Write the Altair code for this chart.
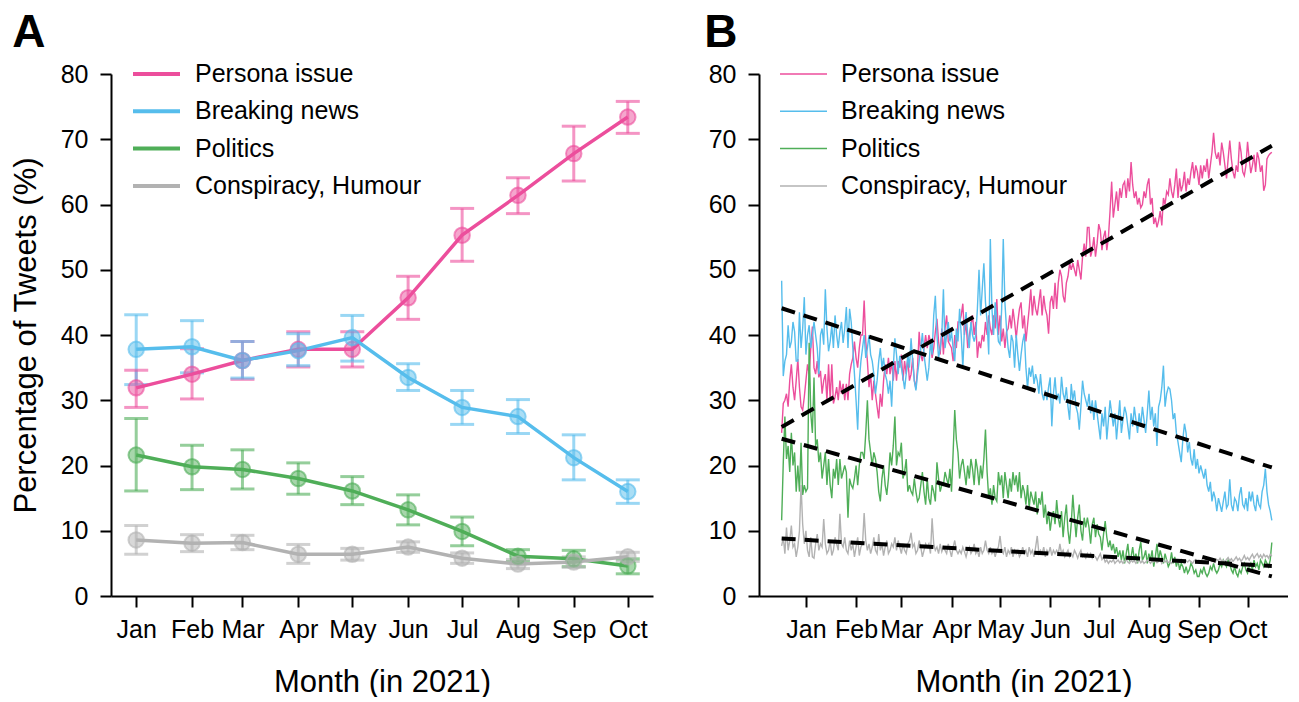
import altair as alt
import pandas as pd

FONT = "Liberation Sans"
SERIES = ["Persona issue", "Breaking news", "Politics", "Conspiracy, Humour"]
COLORS = ["#EC4E9C", "#56BDEC", "#4FAE58", "#B2B2B2"]

# ---------------- Panel A: monthly means with error bars ----------------
MONTHS = ["2021-01-01", "2021-02-01", "2021-03-01", "2021-04-01", "2021-05-01",
          "2021-06-01", "2021-07-01", "2021-08-01", "2021-09-01", "2021-10-01"]

persona_mean = [31.9, 34.0, 36.1, 37.8, 37.8, 45.7, 55.3, 61.4, 67.8, 73.4]
persona_lo = [28.9, 30.2, 33.2, 35.1, 35.1, 42.4, 51.3, 58.6, 63.6, 70.9]
persona_hi = [34.6, 37.9, 39.0, 40.5, 40.5, 49.0, 59.4, 64.1, 72.0, 75.8]

breaking_mean = [37.8, 38.2, 36.1, 37.6, 39.6, 33.5, 28.9, 27.5, 21.2, 16.0]
breaking_lo = [32.4, 34.2, 33.4, 35.3, 36.0, 31.5, 26.3, 24.9, 17.8, 14.2]
breaking_hi = [43.1, 42.2, 39.0, 40.2, 43.0, 35.6, 31.5, 30.1, 24.7, 17.8]

politics_mean = [21.6, 19.8, 19.4, 18.0, 16.1, 13.2, 9.9, 6.1, 5.7, 4.6]
politics_lo = [16.1, 16.3, 16.4, 15.6, 14.0, 10.9, 7.7, 5.3, 4.5, 3.4]
politics_hi = [27.2, 23.1, 22.4, 20.4, 18.3, 15.5, 12.1, 7.1, 7.0, 5.7]

consp_mean = [8.6, 8.1, 8.2, 6.4, 6.4, 7.5, 5.8, 4.9, 5.2, 6.0]
consp_lo = [6.4, 6.8, 7.1, 5.0, 5.5, 6.7, 5.0, 4.2, 4.4, 5.3]
consp_hi = [10.8, 9.4, 9.3, 7.9, 7.3, 8.3, 6.6, 5.6, 6.0, 6.7]

# ---------------- Panel B: daily shares (from 2020-12-17) ----------------
DAILY_START = "2020-12-17"

persona_daily = [
    25, 29.5, 30, 31, 29, 33, 35.5, 32, 30, 33,
    36.3, 32, 29, 28.5, 30.5, 33, 35.5, 34, 38, 41.3,
    35, 34, 36, 33.5, 34.5, 31, 33, 34, 30, 35.5,
    30, 35.5, 29.5, 30.5, 32, 30, 33, 31, 32.5, 30,
    32.5, 30, 34, 35.5, 36.5, 39, 36.5, 35, 38, 40,
    40, 45.3, 39, 36, 32, 34, 30, 33, 31, 29,
    27.2, 31, 29, 33, 35.5, 34, 36.5, 34, 36, 33,
    36, 33, 36, 35, 37, 33, 36, 34, 36.5, 33,
    34, 36.5, 33, 31.8, 35, 40.5, 37, 36, 38, 40,
    38, 40, 39, 36.5, 38, 40.5, 42.5, 39, 37, 41,
    37, 41, 43, 39, 38.5, 38, 36, 40, 38, 42,
    42, 43, 44.8, 40, 42, 38, 40, 41.5, 43, 40,
    42, 36.5, 39, 38, 40, 39, 42, 40, 43, 41,
    40, 43, 41, 45.5, 40, 43, 39, 41, 38, 40.5,
    41, 43, 41, 44, 42, 39.5, 42, 44, 45, 41,
    43, 39, 41.5, 44, 47, 43, 46, 44, 43, 45,
    47, 43, 46, 44, 43, 40.2, 45, 46, 44, 48,
    44, 48, 50, 49, 46, 45, 48, 49, 51, 50,
    51, 50, 49, 51.5, 50, 48.5, 52, 54, 52, 56.5,
    56.5, 52, 53, 55, 52, 54, 57, 56, 53, 55,
    56, 53, 55, 59, 63.5, 58, 60, 62, 59, 62.5,
    61, 63, 63.5, 61, 64, 62, 66.5, 63, 61, 62,
    60, 61, 59.5, 60, 62, 61, 63, 64, 60, 61,
    57, 58, 56.5, 57.5, 59, 56.8, 61, 60, 62, 61.5,
    64, 62, 61, 63, 65.5, 61, 64, 62, 63, 65,
    62, 64, 63, 65, 66.5, 64, 66, 65, 63, 66,
    64, 66, 65, 67, 64, 66, 68, 71, 68, 67,
    68, 66, 69.5, 68, 66, 64, 67, 69.8, 67, 65,
    64, 66, 65, 69.6, 68, 65, 64.4, 66, 69.6, 67,
    64.8, 66, 67.6, 65, 68, 67, 65, 66, 62.1, 63,
    67, 67.5, 67.8, 68,
]

breaking_daily = [
    48.3, 33.7, 36, 37, 41.5, 38, 39, 42, 40.5, 36,
    36, 43.5, 38, 41, 45.8, 37, 40, 41.5, 38, 40,
    42, 40, 38, 34, 40, 41, 38.5, 47, 41, 37.5,
    39, 41.5, 38, 43, 40, 38, 40.5, 42, 38.8, 41,
    44.3, 38, 44, 42, 38, 34, 30, 25.5, 33, 36,
    38, 40, 36.5, 38, 40, 37, 36, 34, 31, 33,
    36, 38, 35, 36.5, 34, 33, 31, 33, 29, 35,
    39.5, 37, 34, 36.8, 35, 33.5, 31.7, 34, 37, 35,
    39.5, 36, 33, 31.5, 34, 36, 38, 40.3, 37, 35,
    33, 35, 39, 37, 43, 46, 40, 36.5, 38, 40,
    47, 38, 40, 42, 39, 40.5, 38, 36, 41, 39,
    44, 40, 35, 41, 43.5, 40, 38, 42, 40, 39,
    40, 44, 50, 43, 47, 51, 45, 42, 37, 54.7,
    44, 40, 45, 42, 39, 38.6, 44, 54.7, 45, 41,
    38, 36.5, 40, 39, 35, 40, 37, 34.5, 37, 39,
    40.2, 35, 31.8, 35, 33.6, 35.3, 32.5, 34, 33, 31,
    34, 31, 30, 31.5, 30, 32, 33.5, 26, 31, 33.5,
    30, 31, 29.5, 33.6, 31, 30, 32, 29, 27, 32.5,
    30, 31.5, 29, 28, 25.5, 29, 33, 31, 30, 29,
    31, 28, 30, 27, 30, 28, 26, 24, 28, 26,
    29, 24, 27, 30, 28, 26, 28, 24, 27, 30,
    25, 27, 29, 28, 26, 24, 28, 26, 29, 27,
    25, 28, 26, 29, 27, 25, 28, 31.5, 27, 29,
    26, 28, 23, 29, 30, 32, 35.3, 29, 31, 32,
    31.7, 30, 27.1, 28, 25, 23.6, 22, 20.5, 24, 26.4,
    25, 22, 23.6, 21, 20, 22.5, 19.5, 21, 18.8, 20,
    19, 18, 19.5, 17, 16, 17.5, 14.5, 16, 15, 13,
    15, 14, 12.9, 14.5, 16, 13.5, 14, 17.9, 14, 13,
    15, 14.5, 13, 15.5, 16.7, 14, 13.5, 15, 13, 16,
    14.5, 16, 14, 13, 15.5, 14, 13.5, 16, 17, 19.5,
    16, 14, 13, 11.6,
]

politics_daily = [
    11.6, 20.4, 27.5, 21, 23, 19, 25, 20, 22, 16,
    20, 16, 23.5, 15.5, 17, 16, 16.5, 38.8, 28, 25,
    33.5, 23, 24, 20.5, 22, 18, 20, 22, 17, 21,
    17, 15, 19.5, 18, 21, 17, 21, 18, 19, 20,
    19, 12, 18, 17, 16.5, 18, 20, 17, 20, 22,
    22, 21, 25, 30, 24, 22, 20, 22, 21, 19,
    16, 14.5, 18, 20, 17, 15.5, 18, 22, 20, 23,
    27.5, 20, 22, 21.5, 23.5, 18, 19, 21, 16, 17,
    16, 15.5, 18, 16, 14.5, 15, 17, 19, 16, 14,
    18, 15, 14, 17, 16, 14.5, 20.5, 18, 16, 17,
    17, 19, 18, 17, 19.5, 16, 22, 28.5, 24, 22,
    18, 20, 21, 19, 17, 20, 18, 21, 19.5, 17,
    21, 19.5, 17, 20, 18, 21, 25.5, 19, 15, 16.5,
    14, 17, 15, 14.5, 19, 17, 18.5, 15, 19, 17,
    15, 18, 16, 19, 17, 18.5, 16, 19, 15, 17,
    16, 14, 17, 13.5, 16, 15, 14, 16, 12.5, 15,
    14, 16, 12, 14, 11, 13, 10, 12, 13, 11,
    14.7, 12, 10.5, 13, 9, 12, 14, 10, 8, 11,
    15.5, 12, 9, 12, 14, 10, 8.5, 12, 10.5, 12,
    10.5, 8, 11, 12, 9, 11, 9.5, 9, 7, 9.5,
    11.5, 9, 7.5, 8.5, 7, 8, 6.5, 7.5, 6, 7,
    5.5, 7, 5, 6.5, 8, 5.5, 6, 7.5, 5.5, 6.5,
    5, 7, 8.3, 5.5, 6, 7, 5, 6.5, 5.5, 7,
    4.5, 6, 8, 5.5, 7, 6, 5, 6.5, 5.5, 4.5,
    5, 6.7, 5, 6, 4.5, 5.5, 4, 5, 4.5, 3.5,
    4.5, 3.5, 4, 5, 4.5, 3.5, 4, 3, 3, 4,
    3.5, 4.5, 3.5, 3, 3.5, 4.5, 4, 5, 4, 3.5,
    4, 5, 4.5, 5.5, 5, 4.5, 5.5, 5, 4, 3.5,
    4.5, 3.5, 3, 4, 3.5, 4.5, 5, 4, 3.5, 4.5,
    5, 4, 5.5, 4.5, 5, 4, 5.5, 5, 4.5, 5.5,
    5, 4.5, 5.5, 8.2,
]

consp_daily = [
    7.7, 9, 6.5, 10.5, 7, 8.5, 10.8, 7.5, 8, 6,
    7.5, 10, 17, 11, 8, 10, 7, 6, 9, 6,
    5.8, 8, 9.5, 7, 8, 7.5, 11.8, 8, 6.5, 7,
    8.5, 6.2, 7, 9, 8, 7, 12.6, 8, 7.5, 9,
    7, 6.5, 8.5, 7, 8, 6, 7.5, 9, 6.2, 7.5,
    8, 12.7, 8.5, 7, 8, 6.5, 7.5, 9, 7, 6.5,
    9.5, 7, 8, 6.2, 7.5, 8.5, 6.5, 7, 8, 7.5,
    9, 7, 8.5, 7.5, 6.5, 8, 7, 6.5, 8, 8.5,
    9.7, 7.5, 8, 6.5, 7, 8.5, 7.5, 6, 7, 8,
    7.5, 8, 6.5, 11.9, 8, 7, 7.5, 6.5, 8, 6.8,
    7.5, 7, 6.5, 8, 7, 6, 7.5, 8.5, 7, 6.5,
    7, 6.5, 7.5, 6.8, 6, 7, 7.5, 6.5, 7, 8,
    6.5, 7, 6, 7.5, 6.5, 7, 8.5, 7, 6.5, 7.5,
    6.5, 7, 6, 7, 7.5, 9.2, 7, 6.5, 7.5, 6,
    7, 6.5, 7.5, 6, 7, 6.5, 7, 6, 6.5, 7.5,
    6.5, 7, 6, 7.5, 6.5, 7, 6, 7.5, 9.2, 6.5,
    7, 6.5, 7.5, 6, 7, 6.5, 7.5, 6.2, 7, 6.5,
    7, 6.5, 8, 6.5, 7, 6, 6.5, 7, 6, 6.5,
    6, 7, 6.5, 5.8, 6.5, 7, 6, 6.2, 5.8, 6.5,
    6, 6.5, 5.8, 6.2, 6, 5.5, 6, 6.5, 5.6, 6,
    5.2, 5.5, 5, 5.4, 5.2, 5.6, 5, 5.3, 5.5, 5.1,
    5.4, 5, 5.3, 5.6, 5.2, 5, 5.5, 5.2, 5.4, 5,
    5.3, 5.5, 5.1, 5.4, 5, 5.2, 5.5, 5.3, 5, 5.4,
    5.2, 5.5, 5.1, 5.3, 5.6, 5, 5.4, 5.2, 5.5, 5.1,
    5.3, 5, 5.4, 5.2, 5.5, 5.1, 5.3, 5.6, 5.2, 5,
    5.4, 5.2, 5.5, 5.3, 5, 5.4, 5.6, 5.2, 5.5, 5.3,
    5.6, 5.2, 5.5, 5, 5.4, 5.7, 5.3, 5.5, 5.2, 5.6,
    5.4, 5.8, 5.3, 5.5, 5.2, 5.6, 5.9, 5.4, 5.7, 5.3,
    5.6, 6, 5.5, 5.8, 5.3, 5.7, 6.2, 5.6, 5.9, 5.5,
    6, 6.4, 5.8, 6.2, 6.5, 5.9, 6.3, 5.8, 6.4, 6,
    6.2, 5.8, 6.4, 6.1,
]

# linear trend fits (value at first and last day)
trend_start = [25.9, 44.1, 24.1, 8.8]
trend_end = [69.0, 19.7, 3.0, 4.6]

# ---------------- tables ----------------
monthly_rows = []
for s, m, lo, hi in zip(SERIES,
                        [persona_mean, breaking_mean, politics_mean, consp_mean],
                        [persona_lo, breaking_lo, politics_lo, consp_lo],
                        [persona_hi, breaking_hi, politics_hi, consp_hi]):
    for d, a, b, c in zip(MONTHS, m, lo, hi):
        monthly_rows.append({"date": d + "T00:00:00", "series": s, "value": a, "lo": b, "hi": c})
monthly = pd.DataFrame(monthly_rows)

daily_rows = []
for s, vals in zip(SERIES, [persona_daily, breaking_daily, politics_daily, consp_daily]):
    dates = pd.date_range(DAILY_START, periods=len(vals), freq="D")
    for d, v in zip(dates, vals):
        daily_rows.append({"date": d.strftime("%Y-%m-%dT00:00:00"), "series": s, "value": v})
daily = pd.DataFrame(daily_rows)

first_day = pd.Timestamp(DAILY_START)
last_day = first_day + pd.Timedelta(days=len(persona_daily) - 1)
trend_rows = []
for s, a, b in zip(SERIES, trend_start, trend_end):
    trend_rows.append({"date": first_day.strftime("%Y-%m-%dT00:00:00"), "series": s, "value": a})
    trend_rows.append({"date": last_day.strftime("%Y-%m-%dT00:00:00"), "series": s, "value": b})
trend = pd.DataFrame(trend_rows)

# ---------------- shared encodings ----------------
month_ticks = [alt.DateTime(year=2021, month=m, date=1) for m in range(1, 11)]
color_scale = alt.Scale(domain=SERIES, range=COLORS)


def x_enc(domain):
    return alt.X("date:T",
                 scale=alt.Scale(domain=domain),
                 axis=alt.Axis(values=month_ticks, format="%b", title="Month (in 2021)",
                               labelOverlap=False, labelFlush=False, labelPadding=10,
                               titlePadding=25))


y_axis = alt.Axis(values=list(range(0, 81, 10)), labelPadding=12, titlePadding=18)
y_scale = alt.Scale(domain=[0, 80], nice=False)


def legend(stroke_w):
    return alt.Legend(orient="none", legendX=20, legendY=-12.5, title=None,
                      symbolType="stroke", symbolSize=2209, symbolStrokeWidth=stroke_w,
                      labelFontSize=25, labelFont=FONT, labelOffset=13, rowPadding=11.3,
                      clipHeight=25, labelLimit=500, padding=0, labelColor="black",
                      symbolOpacity=1)


W_A, W_B, H = 542, 529, 522
dom_a = [alt.DateTime(year=2020, month=12, date=18), alt.DateTime(year=2021, month=10, date=15)]
dom_b = [alt.DateTime(year=2020, month=12, date=3), alt.DateTime(year=2021, month=10, date=26)]

# ---------------- panel A ----------------
baseA = alt.Chart(monthly)
xa = x_enc(dom_a)
legA = legend(4)
colA = alt.Color("series:N", scale=color_scale, sort=SERIES, legend=legA)

bars = baseA.mark_rule(strokeWidth=3, opacity=0.6).encode(
    x=xa, y=alt.Y("lo:Q", scale=y_scale, axis=y_axis, title="Percentage of Tweets (%)"),
    y2="hi:Q", color=colA)
cap_lo = baseA.mark_tick(orient="horizontal", size=24, thickness=3, opacity=0.6).encode(
    x=xa, y=alt.Y("lo:Q", scale=y_scale), color=colA)
cap_hi = baseA.mark_tick(orient="horizontal", size=24, thickness=3, opacity=0.6).encode(
    x=xa, y=alt.Y("hi:Q", scale=y_scale), color=colA)
lineA = baseA.mark_line(strokeWidth=3.5).encode(
    x=xa, y=alt.Y("value:Q", scale=y_scale), color=colA)
pts = baseA.mark_circle(size=240, fillOpacity=0.5, strokeWidth=2, strokeOpacity=0.6).encode(
    x=xa, y=alt.Y("value:Q", scale=y_scale), color=colA,
    stroke=alt.Stroke("series:N", scale=color_scale, legend=None))

panelA = alt.layer(bars, cap_lo, cap_hi, lineA, pts).properties(
    width=W_A, height=H,
    title=alt.TitleParams("A", anchor="start", frame="bounds", dx=2, fontSize=46,
                          fontWeight="bold", font=FONT, color="black", offset=4.5))

# ---------------- panel B ----------------
xb = x_enc(dom_b)
linesB = alt.Chart(daily).mark_line(strokeWidth=1.4).encode(
    x=xb, y=alt.Y("value:Q", scale=y_scale, axis=y_axis, title=None),
    color=alt.Color("series:N", scale=color_scale, sort=SERIES, legend=legend(1.5)))
trendB = alt.Chart(trend).mark_line(strokeWidth=4, strokeDash=[14, 9], color="black").encode(
    x=xb, y=alt.Y("value:Q", scale=y_scale), detail="series:N")

panelB = alt.layer(linesB, trendB).properties(
    width=W_B, height=H,
    title=alt.TitleParams("B", anchor="start", frame="bounds", dx=-4, fontSize=46,
                          fontWeight="bold", font=FONT, color="black", offset=4.5))

chart = alt.hconcat(panelA, panelB, spacing=51).resolve_scale(
    color="independent", stroke="independent"
).resolve_legend(color="independent", stroke="independent").properties(
    padding={"left": 2, "top": 2, "right": 0, "bottom": 0}
).configure(font=FONT).configure_view(stroke=None).configure_axis(
    grid=False, domainColor="black", domainWidth=2, tickColor="black", tickWidth=2,
    tickSize=11, labelFontSize=25, labelColor="black", labelFont=FONT,
    titleFontSize=31, titleFontWeight="normal", titleColor="black", titleFont=FONT)

chart.save("out.html", embed_options={"renderer": "svg", "actions": False})
